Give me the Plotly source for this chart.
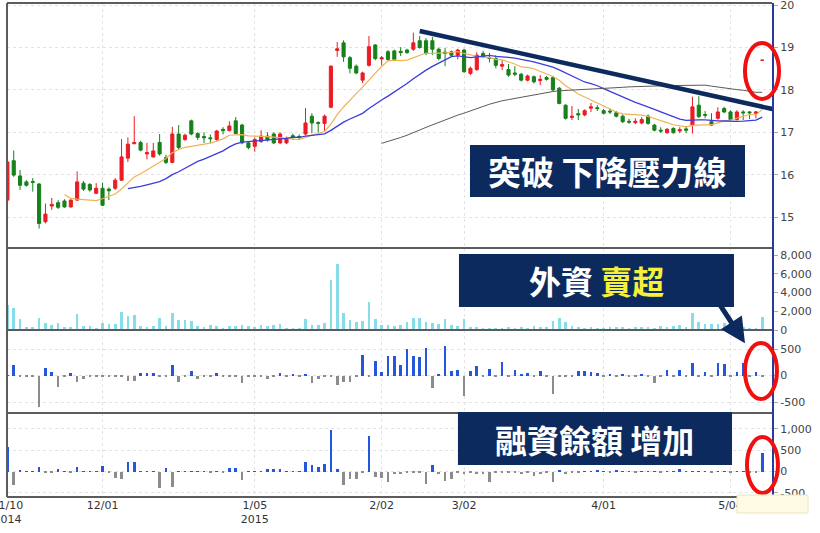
import pandas as pd
import plotly.graph_objects as go
from plotly.subplots import make_subplots

# ---------------- data ----------------
opens = [15.40, 16.33, 15.97, 15.83, 15.84, 15.78, 14.89, 15.26, 15.34, 15.38,
         15.24, 15.40, 15.80, 15.77, 15.56, 15.68, 15.66, 15.68, 15.87, 16.39,
         16.73, 16.76, 16.49, 16.42, 16.76, 16.40, 16.29, 16.96, 16.83, 17.27,
         16.97, 16.90, 16.87, 16.83, 17.07, 17.04, 17.27, 17.17, 16.75, 16.67,
         16.78, 16.91, 16.96, 16.75, 16.75, 16.92, 16.90, 16.96, 17.38, 17.23,
         17.21, 17.59, 18.93, 19.11, 18.76, 18.56, 18.23, 18.58, 19.06, 18.73,
         18.90, 18.92, 18.91, 18.94, 18.96, 19.16, 19.16, 19.16, 18.96, 18.89,
         18.90, 18.82, 18.94, 18.39, 18.48, 18.86, 18.76, 18.74, 18.56, 18.48,
         18.40, 18.37, 18.23, 18.31, 18.22, 18.29, 18.29, 18.04, 17.64, 17.35,
         17.44, 17.41, 17.57, 17.58, 17.51, 17.50, 17.46, 17.38, 17.26, 17.23,
         17.22, 17.38, 17.17, 17.05, 16.99, 17.09, 17.03, 17.08, 17.17, 17.64,
         17.42, 17.25, 17.33, 17.56, 17.48, 17.30, 17.48, 17.48, 17.45, 18.70]
highs = [16.32, 16.57, 16.11, 15.87, 15.92, 15.80, 15.32, 15.45, 15.40, 15.42,
         15.42, 16.08, 15.85, 15.80, 15.80, 15.81, 15.70, 15.92, 16.84, 16.88,
         17.38, 16.80, 16.75, 16.75, 16.96, 16.47, 17.13, 17.17, 16.97, 17.30,
         17.00, 17.00, 16.95, 17.06, 17.12, 17.26, 17.36, 17.20, 16.78, 16.88,
         17.05, 17.00, 17.00, 17.00, 16.90, 16.97, 16.95, 17.57, 17.45, 17.26,
         17.42, 18.58, 19.13, 19.17, 18.80, 18.60, 18.43, 19.27, 19.08, 18.80,
         18.94, 18.95, 19.01, 18.97, 19.35, 19.27, 19.22, 19.25, 19.00, 18.99,
         18.93, 18.97, 18.97, 18.55, 18.89, 18.92, 18.87, 18.82, 18.70, 18.61,
         18.56, 18.40, 18.36, 18.34, 18.35, 18.33, 18.33, 18.07, 17.66, 17.62,
         17.55, 17.54, 17.69, 17.64, 17.55, 17.56, 17.50, 17.42, 17.32, 17.33,
         17.36, 17.42, 17.20, 17.12, 17.10, 17.12, 17.12, 17.14, 17.84, 17.85,
         17.50, 17.45, 17.59, 17.60, 17.52, 17.52, 17.52, 17.50, 17.50, 18.70]
lows = [15.28, 15.95, 15.64, 15.72, 15.60, 14.73, 14.85, 15.17, 15.19, 15.22,
        15.22, 15.38, 15.62, 15.60, 15.54, 15.26, 15.40, 15.64, 15.85, 16.30,
        16.72, 16.55, 16.36, 16.40, 16.45, 16.25, 16.27, 16.60, 16.80, 16.93,
        16.82, 16.75, 16.75, 16.80, 16.95, 17.02, 16.95, 16.72, 16.60, 16.54,
        16.75, 16.78, 16.72, 16.72, 16.72, 16.82, 16.83, 16.93, 16.98, 16.99,
        17.01, 17.57, 18.78, 18.66, 18.39, 18.37, 18.16, 18.55, 18.70, 18.58,
        18.68, 18.68, 18.80, 18.85, 18.92, 18.97, 18.82, 18.82, 18.70, 18.56,
        18.78, 18.72, 18.40, 18.35, 18.45, 18.75, 18.65, 18.51, 18.47, 18.31,
        18.32, 18.20, 18.20, 18.15, 18.11, 18.22, 17.97, 17.66, 17.30, 17.29,
        17.29, 17.38, 17.48, 17.50, 17.42, 17.43, 17.35, 17.22, 17.20, 17.19,
        17.19, 17.18, 17.02, 16.98, 16.97, 16.97, 16.98, 16.98, 16.97, 17.34,
        17.33, 17.15, 17.30, 17.45, 17.28, 17.28, 17.29, 17.31, 17.33, 18.70]
closes = [16.30, 15.99, 15.75, 15.75, 15.82, 14.85, 15.07, 15.30, 15.23, 15.24,
          15.40, 15.83, 15.66, 15.64, 15.68, 15.28, 15.62, 15.87, 16.42, 16.72,
          16.76, 16.58, 16.52, 16.56, 16.49, 16.29, 16.96, 16.64, 16.93, 16.96,
          16.88, 16.87, 16.85, 17.03, 17.04, 17.15, 16.97, 16.75, 16.64, 16.83,
          16.91, 16.82, 16.75, 16.96, 16.86, 16.89, 16.88, 17.22, 17.22, 17.21,
          17.38, 18.56, 18.97, 18.78, 18.51, 18.40, 18.40, 19.02, 18.74, 18.76,
          18.72, 18.72, 18.88, 18.88, 19.11, 19.00, 18.86, 18.96, 18.74, 18.86,
          18.82, 18.94, 18.43, 18.51, 18.82, 18.78, 18.74, 18.58, 18.60, 18.35,
          18.37, 18.23, 18.33, 18.19, 18.25, 18.25, 18.00, 17.68, 17.33, 17.38,
          17.41, 17.51, 17.60, 17.56, 17.45, 17.48, 17.38, 17.25, 17.24, 17.26,
          17.30, 17.21, 17.05, 17.03, 17.07, 16.99, 17.06, 17.05, 17.60, 17.37,
          17.40, 17.17, 17.48, 17.48, 17.30, 17.48, 17.46, 17.46, 17.48, 18.70]
volume = [2670, 2310, 1140, 300, 300, 1320, 780, 530, 710, 360,
          280, 1670, 430, 430, 180, 780, 640, 640, 1960, 1530,
          1570, 430, 360, 430, 1320, 460, 1850, 1070, 1070, 1000,
          430, 280, 530, 430, 250, 430, 430, 530, 430, 360,
          530, 430, 530, 640, 180, 140, 180, 1140, 570, 530,
          780, 5330, 7000, 1850, 1070, 890, 1000, 3020, 1210, 530,
          530, 430, 530, 890, 1240, 1240, 890, 780, 640, 1140,
          530, 430, 1170, 360, 360, 180, 200, 150, 250, 300,
          200, 300, 250, 400, 350, 300, 1000, 1250, 900, 400,
          300, 250, 300, 150, 200, 350, 300, 300, 200, 300,
          350, 300, 250, 400, 350, 400, 500, 350, 1800, 900,
          650, 600, 650, 750, 450, 900, 300, 200, 150, 1440]
foreign_net = [5, 205, -12, -12, -12, -595, 147, 64, -224, -12,
               50, -128, -64, -12, -12, -12, -12, -12, -12, -109,
               -109, 51, 45, 51, -12, -20, 205, -128, -12, 83,
               -70, -12, -12, 45, -12, -12, -20, -147, -12, -12,
               -12, -70, -12, 45, -12, 32, -12, 32, -147, -58,
               -12, -12, -179, -128, -115, -12, 384, -12, 269, 64,
               365, 370, 195, 500, 370, 357, 520, -227, 20, 552,
               85, 110, -390, 85, 175, -12, 130, -12, 260, -12,
               97, 15, 45, -12, 78, -12, -345, -12, -12, -12,
               85, 85, 65, 45, -12, 15, -12, 20, -12, -12,
               32, -12, -150, -12, 97, -12, 97, -12, 227, -12,
               65, -12, 227, 208, -12, 65, 227, -12, 65, -12]
margin_chg = [585, -312, 40, 12, 12, 117, -12, -12, 55, 12,
              -12, 100, 12, 12, 12, 133, -12, -156, -180, 226,
              234, 12, 12, 12, -390, 94, -350, 12, 12, 12,
              12, 12, -12, 12, -12, 94, 94, -195, 12, 12,
              12, 55, 55, 55, 12, 12, 12, 234, 156, 100,
              180, 975, 55, -312, -180, -180, -30, 835, -133, -150,
              -234, -60, -60, -12, -12, -12, -294, 162, -60, -220,
              -170, -12, -60, -12, -60, -60, -243, -12, -12, -30,
              -12, -60, -12, -100, -60, -12, -243, 40, -60, -12,
              -12, 12, 12, 40, 12, -12, 40, 12, 12, -12,
              12, 12, 12, -12, 12, 12, 50, 12, 12, 12,
              12, -12, 12, 12, -12, 12, 12, -12, -12, 430]

x_tick_idx = [0, 15, 39, 59, 72, 94, 114]
x_tick_text = ['11/10<br>2014', '12/01', '1/05<br>2015', '2/02', '3/02', '4/01', '5/04']
price_ticks = [15, 16, 17, 18, 19, 20]
price_tick_text = ['15', '16', '17', '18', '19', '20']
vol_ticks = [0, 2000, 4000, 6000, 8000]
vol_tick_text = ['0', '2,000', '4,000', '6,000', '8,000']
net_ticks = [-500, 0, 500]
net_tick_text = ['-500', '0', '500']
mgn_ticks = [-500, 0, 500, 1000]
mgn_tick_text = ['-500', '0', '500', '1,000']
ma_windows = [10, 20, 60]
trend_x = [65, 121.5]
trend_y = [19.39, 17.52]

# ---------------- figure ----------------
days = list(range(len(closes)))
cs = pd.Series(closes)
RED, GREEN = '#ec1c24', '#17801a'
NAVY = '#0c2a5e'
FONT = 'DejaVu Sans'
CJK = 'Noto Sans CJK TC'

fig = make_subplots(rows=4, cols=1, shared_xaxes=True, vertical_spacing=0)

fig.add_trace(go.Candlestick(
    x=days, open=opens, high=highs, low=lows, close=closes,
    increasing=dict(line=dict(color=RED, width=1), fillcolor=RED),
    decreasing=dict(line=dict(color=GREEN, width=1), fillcolor=GREEN),
    whiskerwidth=0, showlegend=False, hoverinfo='skip'), row=1, col=1)

ma_colors = {10: '#f0b257', 20: '#3c3cdc', 60: '#5a5a5a'}
ma_widths = {10: 1.2, 20: 1.3, 60: 1.0}
for w in ma_windows:
    fig.add_trace(go.Scatter(x=days, y=cs.rolling(w).mean(), mode='lines',
                             line=dict(color=ma_colors[w], width=ma_widths[w]),
                             showlegend=False, hoverinfo='skip'), row=1, col=1)

fig.add_trace(go.Bar(x=days, y=volume, marker=dict(color='#86dde9', line=dict(width=0)),
                     width=0.42, showlegend=False, hoverinfo='skip'), row=2, col=1)
fig.add_trace(go.Bar(x=days, y=foreign_net,
                     marker=dict(color=['#2457dc' if v > 0 else '#8c8c8c' for v in foreign_net],
                                 line=dict(width=0)),
                     width=0.42, showlegend=False, hoverinfo='skip'), row=3, col=1)
fig.add_trace(go.Bar(x=days, y=margin_chg,
                     marker=dict(color=['#2457dc' if v > 0 else '#8c8c8c' for v in margin_chg],
                                 line=dict(width=0)),
                     width=0.42, showlegend=False, hoverinfo='skip'), row=4, col=1)

domains = {1: [0.504, 1.0], 2: [0.338, 0.504], 3: [0.170, 0.338], 4: [0.0, 0.170]}
yranges = {1: [14.27, 20.05], 2: [0, 8750], 3: [-707, 858], 4: [-594, 1372]}
yticks = {1: (price_ticks, price_tick_text), 2: (vol_ticks, vol_tick_text),
          3: (net_ticks, net_tick_text), 4: (mgn_ticks, mgn_tick_text)}
for r in range(1, 5):
    fig.update_yaxes(row=r, col=1, domain=domains[r], range=yranges[r], side='right',
                     tickvals=yticks[r][0], ticktext=yticks[r][1], automargin=False,
                     showgrid=(r != 2), gridcolor='#e3e3e3', griddash='dot', gridwidth=1,
                     zeroline=False, showline=True, linecolor='#2a3a9c', linewidth=2,
                     ticks='outside', ticklen=4, tickcolor='#aaaaaa',
                     ticklabeloverflow='allow',
                     tickfont=dict(family=FONT, size=11, color='#444444'), fixedrange=True)
    fig.update_xaxes(row=r, col=1, range=[-0.06, 120.54], tickvals=x_tick_idx,
                     ticktext=x_tick_text, showticklabels=(r == 4), automargin=False,
                     showgrid=True, gridcolor='#e3e3e3', griddash='dot', gridwidth=1,
                     zeroline=False, showline=False, ticks='',
                     ticklabeloverflow='allow',
                     rangeslider=dict(visible=False),
                     tickfont=dict(family=FONT, size=11, color='#333333'))

shapes = []
# trend (resistance) line
shapes.append(dict(type='line', xref='x', yref='y', x0=trend_x[0], y0=trend_y[0],
                   x1=trend_x[1], y1=trend_y[1], line=dict(color=NAVY, width=4.5), layer='above'))
# frame: left, top, bottom, separators
border = '#5c5c5c'
shapes.append(dict(type='line', xref='paper', yref='paper', x0=0, x1=0, y0=0, y1=1,
                   line=dict(color=border, width=2)))
shapes.append(dict(type='line', xref='paper', yref='paper', x0=0, x1=1, y0=1, y1=1,
                   line=dict(color=border, width=2)))
shapes.append(dict(type='line', xref='paper', yref='paper', x0=0, x1=1, y0=0, y1=0,
                   line=dict(color=border, width=2)))
for yy in [0.504, 0.338, 0.170]:
    shapes.append(dict(type='line', xref='paper', yref='paper', x0=0, x1=1, y0=yy, y1=yy,
                       line=dict(color=border, width=2)))
# label boxes
for (x0, x1, y0, y1) in [(0.6052, 0.9647, 0.6073, 0.7126),
                         (0.5908, 0.9503, 0.3846, 0.4919),
                         (0.5895, 0.9477, 0.0648, 0.1721)]:
    shapes.append(dict(type='rect', xref='paper', yref='paper', x0=x0, x1=x1, y0=y0, y1=y1,
                       fillcolor=NAVY, line=dict(width=0), layer='above'))
# red ellipses
for (x0, x1, y0, y1) in [(0.9647, 1.0092, 0.8057, 0.9190),
                         (0.9647, 1.0065, 0.1984, 0.3117),
                         (0.9673, 1.0078, 0.0081, 0.1215)]:
    shapes.append(dict(type='circle', xref='paper', yref='paper', x0=x0, x1=x1, y0=y0, y1=y1,
                       line=dict(color='#f01010', width=4), layer='above'))
# small yellow tooltip box at bottom right
shapes.append(dict(type='rect', xref='paper', yref='paper', x0=0.9543, x1=1.0471,
                   y0=-0.0324, y1=0.004, fillcolor='#fffbe2',
                   line=dict(color='#ebe5bd', width=1), layer='above'))

annotations = [
    dict(xref='paper', yref='paper', x=0.785, y=0.66, text='<b>突破 下降壓力線</b>', showarrow=False,
         xanchor='center', yanchor='middle',
         font=dict(family=CJK, size=33, color='white')),
    dict(xref='paper', yref='paper', x=0.7706, y=0.4383,
         text='<b>外資 <span style="color:#f4f03c">賣超</span></b>', showarrow=False,
         xanchor='center', yanchor='middle',
         font=dict(family=CJK, size=32, color='white')),
    dict(xref='paper', yref='paper', x=0.7686, y=0.1184, text='<b>融資餘額 增加</b>', showarrow=False,
         xanchor='center', yanchor='middle',
         font=dict(family=CJK, size=32, color='white')),
    dict(xref='paper', yref='paper', x=0.9647, y=0.311, text='', showarrow=True,
         ax=-26, ay=-40, arrowhead=2, arrowsize=1.0, arrowwidth=5, arrowcolor=NAVY),
]

fig.update_layout(width=820, height=533, margin=dict(l=7, r=48, t=3, b=36),
                  paper_bgcolor='white', plot_bgcolor='white', bargap=0,
                  shapes=shapes, annotations=annotations, showlegend=False,
                  font=dict(family=FONT))

fig.write_html("out.html", config={'displayModeBar': False},
               post_script="document.body.style.margin='0px';")
